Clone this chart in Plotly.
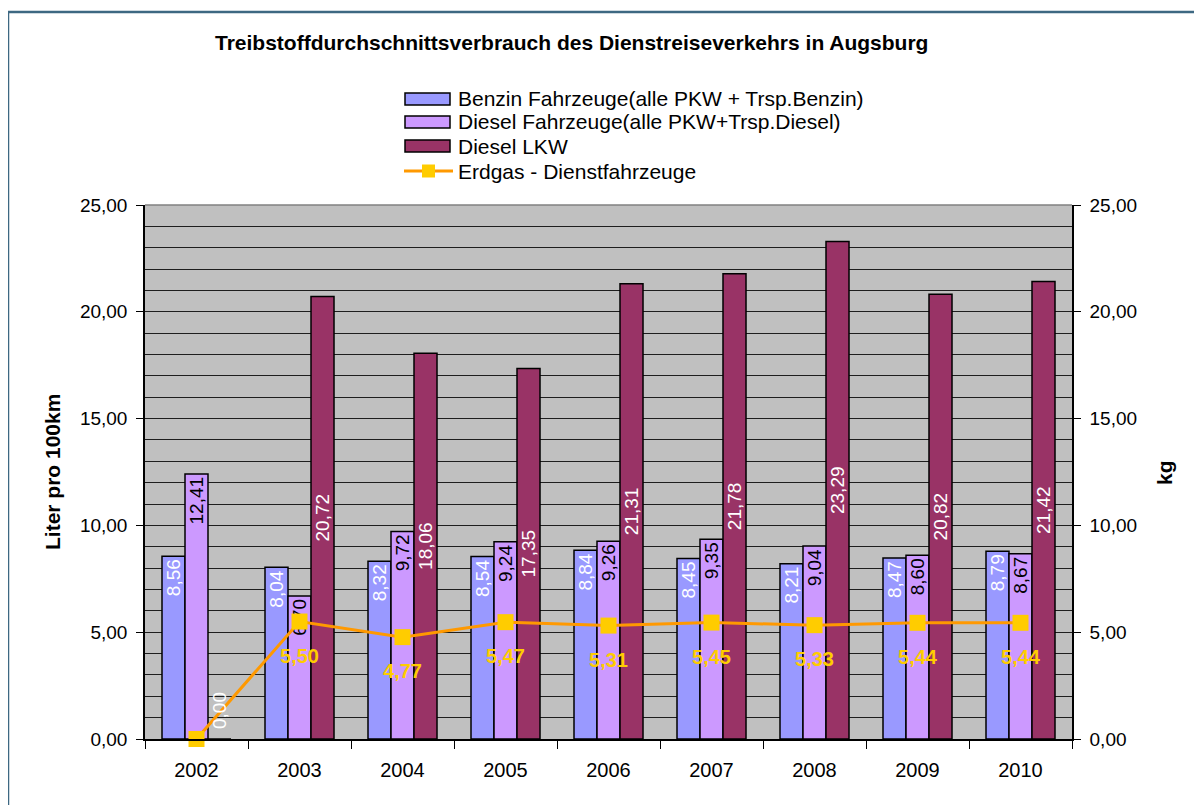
import plotly.graph_objects as go

# Daten
jahre = ["2002", "2003", "2004", "2005", "2006", "2007", "2008", "2009", "2010"]
benzin = [8.56, 8.04, 8.32, 8.54, 8.84, 8.45, 8.21, 8.47, 8.79]
diesel = [12.41, 6.70, 9.72, 9.24, 9.26, 9.35, 9.04, 8.60, 8.67]
diesel_lkw = [0.00, 20.72, 18.06, 17.35, 21.31, 21.78, 23.29, 20.82, 21.42]
erdgas = [0.00, 5.50, 4.77, 5.47, 5.31, 5.45, 5.33, 5.44, 5.44]

namen = ["Benzin Fahrzeuge(alle PKW + Trsp.Benzin)",
         "Diesel Fahrzeuge(alle PKW+Trsp.Diesel)",
         "Diesel LKW",
         "Erdgas - Dienstfahrzeuge"]
farben = ["#9999FF", "#CC99FF", "#993366"]


def fmt(v):
    return f"{v:.2f}".replace(".", ",")


schrift = "Liberation Sans, Arial, sans-serif"

# Seite hat 8px Rand, daher Figur etwas kleiner
O = 8
W, H = 1202 - O, 805 - O
# Plotbereich in Bildschirm-Pixeln
L, R, T, B = 145, 1072, 205, 739


def px(sx):
    return (sx - L) / (R - L)


def py(sy):
    return (B - sy) / (B - T)


fig = go.Figure()

fig.add_trace(go.Bar(
    x=jahre, y=benzin, name=namen[0], showlegend=False,
    marker=dict(color=farben[0], line=dict(color="black", width=1.5)),
    text=[fmt(v) for v in benzin], textposition="inside", insidetextanchor="end",
    textangle=-90, constraintext="none",
    insidetextfont=dict(color="white", size=19, family=schrift),
))
fig.add_trace(go.Bar(
    x=jahre, y=diesel, name=namen[1], showlegend=False,
    marker=dict(color=farben[1], line=dict(color="black", width=1.5)),
    text=[fmt(v) for v in diesel], textposition="inside", insidetextanchor="end",
    textangle=-90, constraintext="none",
    insidetextfont=dict(color="black", size=19, family=schrift),
))
fig.add_trace(go.Bar(
    x=jahre, y=diesel_lkw, name=namen[2], showlegend=False,
    marker=dict(color=farben[2], line=dict(color="black", width=1.5)),
    text=[fmt(v) for v in diesel_lkw], textposition="inside", insidetextanchor="middle",
    textangle=-90, constraintext="none",
    insidetextfont=dict(color="white", size=19, family=schrift),
))
fig.add_trace(go.Scatter(
    x=jahre, y=erdgas, name=namen[3], yaxis="y2", showlegend=False,
    mode="lines+markers",
    line=dict(color="#FF9900", width=3),
    marker=dict(symbol="square", size=16, color="#FFCC00"),
    cliponaxis=False,
))
# Beschriftung Erdgas (unsichtbare große Marker für Abstand)
fig.add_trace(go.Scatter(
    x=jahre, y=erdgas, yaxis="y2", showlegend=False, hoverinfo="skip",
    mode="markers+text",
    marker=dict(size=40, opacity=0),
    text=["" if v == 0 else "<b>" + fmt(v) + "</b>" for v in erdgas],
    textposition="bottom center",
    textfont=dict(color="#FFCC00", size=20, family=schrift),
    cliponaxis=False,
))

achse_y = dict(
    range=[0, 25], dtick=5, tickformat=".2f",
    ticks="outside", ticklen=7, tickcolor="black", ticklabelstandoff=5,
    showline=True, linecolor="black", linewidth=1.5,
    showgrid=True, gridcolor="#1e1e1e", gridwidth=1,
    minor=dict(dtick=1, showgrid=True, gridcolor="#1e1e1e", gridwidth=1),
    tickfont=dict(size=19, color="black", family=schrift),
    zeroline=False, fixedrange=True,
)

annots = [
    dict(text="<b>Treibstoffdurchschnittsverbrauch des Dienstreiseverkehrs in Augsburg</b>",
         x=px(571), y=py(42), font=dict(size=21, family=schrift)),
    dict(text="<b>Liter pro 100km</b>", textangle=-90,
         x=px(52), y=py(472), font=dict(size=21, family=schrift)),
    dict(text="<b>kg</b>", textangle=-90,
         x=px(1164), y=py(473), font=dict(size=21, family=schrift)),
]

# Nullwerte der LKW-Balken beschriften (Balken ohne Höhe)
for i, v in enumerate(diesel_lkw):
    if v == 0:
        annots.append(dict(text=fmt(v), textangle=-90, xref="x", yref="y", x=i, y=v,
                           xshift=23, yshift=8, xanchor="center", yanchor="bottom",
                           font=dict(size=19, color="white", family=schrift)))

shapes = [
    # Rahmen um das Diagramm (links und oben)
    dict(type="line", x0=px(8), x1=px(8), y0=py(12), y1=py(830),
         line=dict(color="#3D6882", width=2.5)),
    dict(type="line", x0=px(8), x1=px(1230), y0=py(12), y1=py(12),
         line=dict(color="#3D6882", width=2.5)),
    # obere Kante des Plotbereichs
    dict(type="line", x0=0, x1=1, y0=1, y1=1, line=dict(color="#808080", width=1.5)),
]

# Legende von Hand
zeilen_y = [99, 122, 146, 171]
for i, name in enumerate(namen):
    yc = zeilen_y[i]
    if i < 3:
        shapes.append(dict(type="rect", x0=px(405), x1=px(450), y0=py(yc - 6), y1=py(yc + 6),
                           fillcolor=farben[i], line=dict(color="black", width=1.5)))
    else:
        shapes.append(dict(type="line", x0=px(404), x1=px(453), y0=py(yc), y1=py(yc),
                           line=dict(color="#FF9900", width=3)))
        shapes.append(dict(type="rect", x0=px(422), x1=px(435), y0=py(yc - 6.5), y1=py(yc + 6.5),
                           fillcolor="#FFCC00", line=dict(width=0)))
    annots.append(dict(text=name, x=px(456), y=py(yc), xanchor="left",
                       font=dict(size=21, family=schrift)))

for a in annots:
    a.setdefault("xref", "paper")
    a.setdefault("yref", "paper")
    a.setdefault("showarrow", False)
    a.setdefault("xanchor", "center")
    a.setdefault("yanchor", "middle")
for s in shapes:
    s.setdefault("xref", "paper")
    s.setdefault("yref", "paper")

fig.update_layout(
    width=W, height=H,
    margin=dict(l=L - O, r=W - (R - O), t=T - O, b=H - (B - O)),
    paper_bgcolor="white", plot_bgcolor="#C0C0C0",
    separators=",.",
    font=dict(family=schrift, color="black"),
    barmode="group", bargap=0.33, bargroupgap=0,
    xaxis=dict(
        type="category", range=[-0.5, len(jahre) - 0.5],
        tickson="boundaries", ticks="outside", ticklen=8,
        tickcolor="black", showline=True, linecolor="black", linewidth=1.5,
        ticklabelstandoff=12,
        tickfont=dict(size=20, family=schrift), showgrid=False, fixedrange=True,
    ),
    yaxis=dict(**achse_y, side="left"),
    yaxis2=dict(**achse_y, side="right", overlaying="y"),
    showlegend=False,
    annotations=annots,
    shapes=shapes,
)

fig.write_html("out.html")
